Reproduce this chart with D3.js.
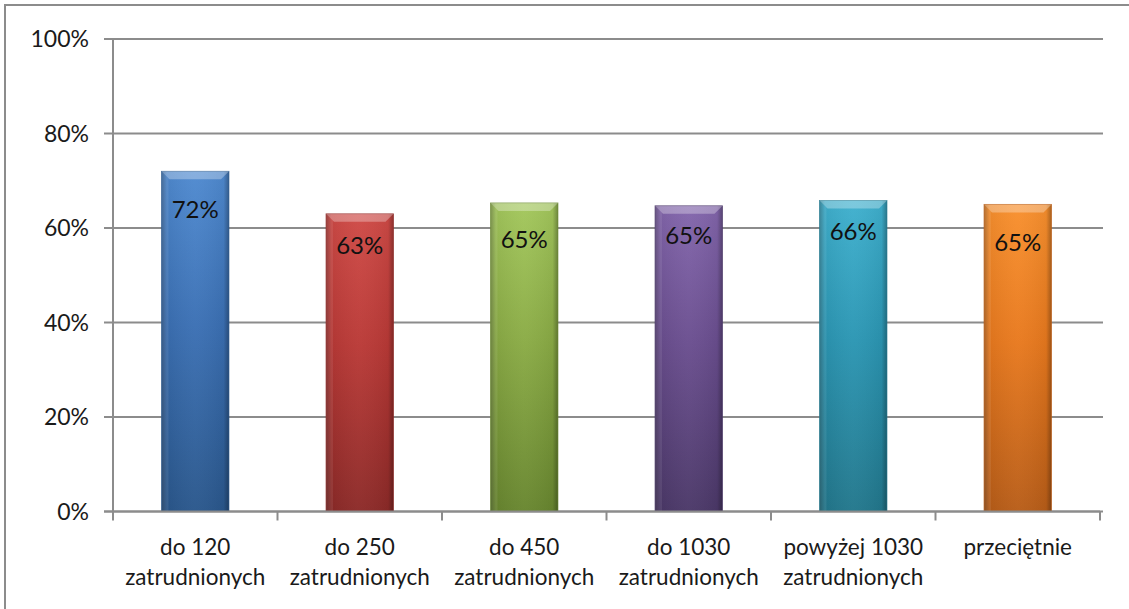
<!DOCTYPE html>
<html><head><meta charset="utf-8">
<script src="https://cdn.jsdelivr.net/npm/d3@7"></script>
<style>body{margin:0;background:#fff}svg{display:block}text{font-family:Lato,"Open Sans",sans-serif}</style>
</head><body><svg id="c" width="1129" height="609"></svg>
<script>
const categories = [["do 120","zatrudnionych"],["do 250","zatrudnionych"],["do 450","zatrudnionych"],["do 1030","zatrudnionych"],["powyżej 1030","zatrudnionych"],["przeciętnie"]];
const values = [0.72, 0.63, 0.653, 0.647, 0.658, 0.65];
const labelOffsets = [38, 32, 36, 30, 31, 38];
const yTicks = [0, 0.2, 0.4, 0.6, 0.8, 1.0];
const barTop = ["#4f8ad0","#cf4a46","#a3c75c","#8366ac","#3fb0ce","#f8902e"];
const barMid = ["#3b70b4","#b93936","#8aab45","#6a4e8f","#2b96b3","#e8791e"];
const barBot = ["#2a578c","#8c2a28","#68862f","#4b3868","#22778c","#b85d18"];

const svg = d3.select("#c");
const x = d3.scaleBand().domain(d3.range(categories.length)).range([113, 1100]).paddingInner(0.59).paddingOuter(0.295);
const xb = d3.scaleBand().domain(d3.range(categories.length)).range([113, 1100]);
const y = d3.scaleLinear().domain([0, 1]).range([511.5, 39]);

svg.append("rect").attr("x",5).attr("y",5).attr("width",1200).attr("height",700)
  .attr("fill","none").attr("stroke","#8c8c8c").attr("stroke-width",2);

const defs = svg.append("defs");
values.forEach((v,i)=>{
  const g = defs.append("linearGradient").attr("id","gv"+i).attr("x1",0).attr("y1",0).attr("x2",0).attr("y2",1);
  g.append("stop").attr("offset","0%").attr("stop-color",barTop[i]);
  g.append("stop").attr("offset","45%").attr("stop-color",barMid[i]);
  g.append("stop").attr("offset","100%").attr("stop-color",barBot[i]);
});
const gh = defs.append("linearGradient").attr("id","gh").attr("x1",0).attr("y1",0).attr("x2",1).attr("y2",0);
gh.append("stop").attr("offset","0%").attr("stop-color","#000").attr("stop-opacity",0.3);
gh.append("stop").attr("offset","8%").attr("stop-color","#000").attr("stop-opacity",0.05);
gh.append("stop").attr("offset","50%").attr("stop-color","#fff").attr("stop-opacity",0.03);
gh.append("stop").attr("offset","92%").attr("stop-color","#000").attr("stop-opacity",0.05);
gh.append("stop").attr("offset","100%").attr("stop-color","#000").attr("stop-opacity",0.32);

svg.append("g").selectAll("line").data(yTicks).join("line")
  .attr("x1",104).attr("x2",1103).attr("y1",d=>y(d)).attr("y2",d=>y(d))
  .attr("stroke","#8c8c8c").attr("stroke-width",2);

svg.append("line").attr("x1",113).attr("x2",113).attr("y1",y(1)).attr("y2",y(0)+1)
  .attr("stroke","#8c8c8c").attr("stroke-width",2);
svg.append("g").selectAll("text").data(yTicks).join("text")
  .attr("x",89).attr("y",d=>y(d)).attr("dy","0.36em").attr("text-anchor","end")
  .attr("font-size",23).attr("fill","#1a1a1a").text(d=>d3.format(".0%")(d));

svg.append("g").selectAll("line").data(d3.range(categories.length+1)).join("line")
  .attr("x1",d=>d<categories.length?xb(d):1100).attr("x2",d=>d<categories.length?xb(d):1100)
  .attr("y1",y(0)).attr("y2",y(0)+9).attr("stroke","#8c8c8c").attr("stroke-width",2);

const bars = svg.append("g").selectAll("g").data(values).join("g");
bars.append("rect").attr("x",(d,i)=>x(i)).attr("width",x.bandwidth())
  .attr("y",d=>y(d)).attr("height",d=>y(0)-y(d)).attr("fill",(d,i)=>`url(#gv${i})`);
bars.append("rect").attr("x",(d,i)=>x(i)).attr("width",x.bandwidth())
  .attr("y",d=>y(d)).attr("height",d=>y(0)-y(d)).attr("fill","url(#gh)")
  .attr("stroke",(d,i)=>barBot[i]).attr("stroke-width",0.8).attr("stroke-opacity",0.8);
bars.append("path").attr("d",(d,i)=>{
  const x0=x(i), x1=x0+x.bandwidth(), t=y(d), b=8;
  return `M${x0},${t}L${x1},${t}L${x1-b},${t+b}L${x0+b},${t+b}Z`;
}).attr("fill","#fff").attr("fill-opacity",0.3);
bars.append("path").attr("d",(d,i)=>{
  const x0=x(i), t=y(d), b=7, h=y(0)-y(d);
  return `M${x0},${t}L${x0+b},${t+b}L${x0+b},${t+h}L${x0},${t+h}Z`;
}).attr("fill","#fff").attr("fill-opacity",0.08);

bars.append("text").attr("x",(d,i)=>x(i)+x.bandwidth()/2).attr("y",(d,i)=>y(d)+labelOffsets[i])
  .attr("dy","0.36em").attr("text-anchor","middle").attr("font-size",24).attr("fill","#111")
  .text(d=>d3.format(".0%")(d));

svg.append("line").attr("x1",104).attr("x2",1100).attr("y1",y(0)).attr("y2",y(0))
  .attr("stroke","#8c8c8c").attr("stroke-width",2);

const cl = svg.append("g").selectAll("text").data(categories).join("text")
  .attr("x",(d,i)=>xb(i)+xb.bandwidth()/2).attr("y",547).attr("text-anchor","middle")
  .attr("font-size",22.5).attr("fill","#1a1a1a");
cl.each(function(d,i){
  const t=d3.select(this);
  d.forEach((s,k)=>t.append("tspan").attr("x",xb(i)+xb.bandwidth()/2).attr("y",547+k*30).attr("dy","0.36em").text(s));
});
</script></body></html>
